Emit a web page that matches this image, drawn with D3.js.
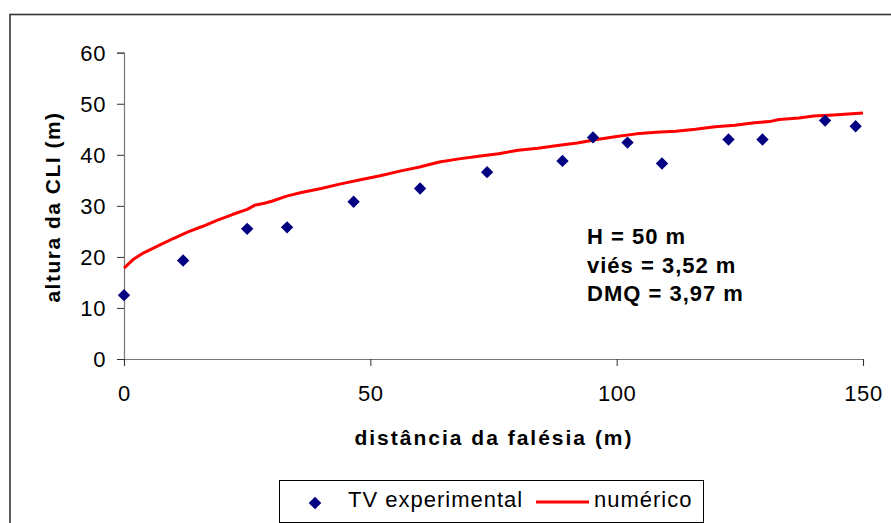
<!DOCTYPE html>
<html>
<head>
<meta charset="utf-8">
<script src="https://cdn.jsdelivr.net/npm/d3@7"></script>
<style>
  html, body { margin: 0; padding: 0; background: #fff; }
  svg { display: block; }
  text { font-family: "Liberation Sans", Arial, sans-serif; fill: #000; }
</style>
</head>
<body>
<svg id="chart" width="891" height="523"></svg>
<script>
// ---- data ----
const expDist = [0, 12.0, 25.0, 33.1, 46.6, 60.1, 73.7, 89.0, 95.2, 102.2, 109.2, 122.7, 129.6, 142.3, 148.5];
const expHeight = [12.5, 19.3, 25.5, 25.8, 30.8, 33.4, 36.6, 38.8, 43.4, 42.4, 38.3, 43.0, 43.0, 46.7, 45.6];

const numDist = [0, 2, 4, 7, 10, 13, 16, 19, 22, 25, 26.5, 28.5, 30, 33, 36, 40, 44, 48, 52, 56, 60, 64, 68, 72, 76, 80, 84, 88, 92, 96, 100, 104, 108, 112, 116, 120, 124, 128, 131, 133, 137, 140, 144, 150];
const numHeight = [17.8, 19.6, 20.8, 22.2, 23.6, 24.9, 26.0, 27.2, 28.3, 29.3, 30.1, 30.5, 30.9, 31.9, 32.6, 33.4, 34.3, 35.1, 35.9, 36.8, 37.6, 38.6, 39.2, 39.7, 40.2, 40.9, 41.3, 41.8, 42.3, 43.0, 43.6, 44.1, 44.4, 44.6, 45.0, 45.5, 45.8, 46.3, 46.5, 46.9, 47.2, 47.6, 47.8, 48.2];

const xTicks = [0, 50, 100, 150];
const yTicks = [0, 10, 20, 30, 40, 50, 60];

const xTitle = "distância da falésia (m)";
const yTitle = "altura da CLI (m)";
const annotation = ["H = 50 m", "viés = 3,52 m", "DMQ = 3,97 m"];
const legendLabels = ["TV experimental", "numérico"];

// ---- drawing ----
const svg = d3.select("#chart");

// outer chart border (extends past the window on right/bottom)
svg.append("rect")
  .attr("x", 10).attr("y", 14.5)
  .attr("width", 900).attr("height", 540)
  .attr("fill", "none").attr("stroke", "#333").attr("stroke-width", 1.6);

const x = d3.scaleLinear().domain([0, 150]).range([124, 863]);
const y = d3.scaleLinear().domain([0, 60]).range([359, 52.7]);

// y axis
const yAxis = svg.append("g").attr("transform", "translate(124,0)")
  .call(d3.axisLeft(y).tickValues(yTicks).tickSize(7).tickPadding(11));
// x axis
const xAxis = svg.append("g").attr("transform", "translate(0,359)")
  .call(d3.axisBottom(x).tickValues(xTicks).tickSize(7).tickPadding(19));

[yAxis, xAxis].forEach(g => {
  g.select(".domain").attr("stroke", "#777").attr("stroke-width", 1.2);
  g.selectAll(".tick line").attr("stroke", "#333").attr("stroke-width", 1);
  g.selectAll(".tick text")
    .style("font-family", '"Liberation Sans", Arial, sans-serif')
    .style("font-size", "22px").style("letter-spacing", "0.6px").attr("fill", "#000");
});
yAxis.selectAll(".tick text").attr("dy", "0.35em");

// axis titles
svg.append("text")
  .attr("x", 494).attr("y", 445)
  .attr("text-anchor", "middle")
  .style("font-size", "21px").style("font-weight", "bold")
  .style("letter-spacing", "2px")
  .text(xTitle);

svg.append("text")
  .attr("transform", "translate(60,207) rotate(-90)")
  .attr("text-anchor", "middle")
  .style("font-size", "21px").style("font-weight", "bold")
  .style("letter-spacing", "1.5px")
  .text(yTitle);

// numerical line
const line = d3.line().x((d, i) => x(numDist[i])).y((d, i) => y(numHeight[i]));
svg.append("path")
  .datum(numHeight)
  .attr("d", line)
  .attr("fill", "none").attr("stroke", "#ff0000").attr("stroke-width", 3)
  .attr("stroke-linejoin", "round");

// experimental points (diamonds)
const diamond = d3.symbol().type(d3.symbolSquare).size(76);
svg.append("g").selectAll("path")
  .data(expHeight)
  .join("path")
  .attr("d", diamond)
  .attr("transform", (d, i) => `translate(${x(expDist[i])},${y(d)}) rotate(45)`)
  .attr("fill", "#000080");

// annotation
const ann = svg.append("text").style("font-size", "22px").style("font-weight", "bold")
  .style("letter-spacing", "1px");
annotation.forEach((t, i) => {
  ann.append("tspan").attr("x", 587).attr("y", 244 + i * 28.5).text(t);
});

// legend
const lg = svg.append("g");
lg.append("rect")
  .attr("x", 279.5).attr("y", 480.5).attr("width", 424).attr("height", 42)
  .attr("fill", "#fff").attr("stroke", "#000").attr("stroke-width", 1);
lg.append("path")
  .attr("d", d3.symbol().type(d3.symbolSquare).size(80))
  .attr("transform", "translate(315,503) rotate(45)")
  .attr("fill", "#000080");
lg.append("text").attr("x", 348).attr("y", 507)
  .style("font-size", "22px").style("letter-spacing", "1px").text(legendLabels[0]);
lg.append("line")
  .attr("x1", 536).attr("x2", 589).attr("y1", 502).attr("y2", 502)
  .attr("stroke", "#ff0000").attr("stroke-width", 3);
lg.append("text").attr("x", 594).attr("y", 507)
  .style("font-size", "22px").style("letter-spacing", "1px").text(legendLabels[1]);
</script>
</body>
</html>
